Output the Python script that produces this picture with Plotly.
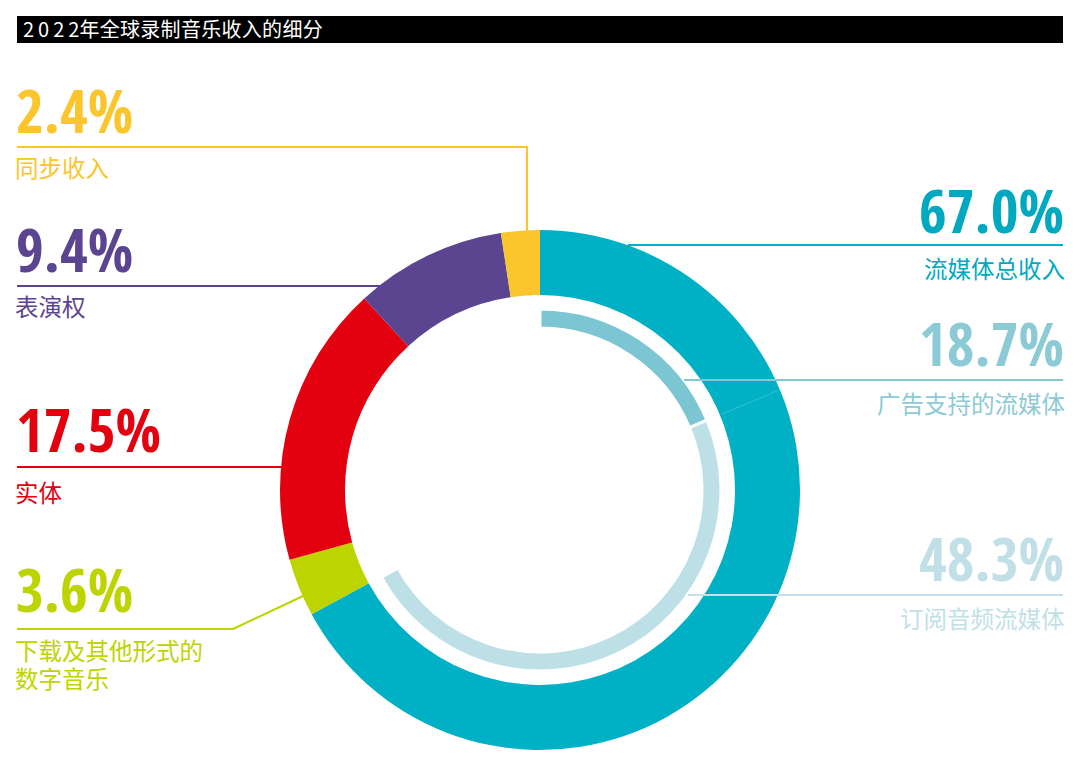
import math
import plotly.graph_objects as go

W, H = 1080, 778

# ---------------- data ----------------
title_text = ("<span style=\"letter-spacing:4px\">202</span>2"
              "<span style=\"letter-spacing:0.3px\">年全球录制音乐收入的细分</span>")

outer_labels = ["流媒体总收入", "下载及其他形式的<br>数字音乐", "实体", "表演权", "同步收入"]
outer_values = [67.0, 3.6, 17.5, 9.4, 2.4]
outer_colors = ["#00b1c5", "#bed400", "#e3000f", "#5b4590", "#fbc52c"]

inner_labels = ["广告支持的流媒体", "订阅音频流媒体", ""]
inner_values = [18.7, 48.3, 100 - 67.0]
inner_colors = ["#7cc5d2", "#bde0e7", "rgba(0,0,0,0)"]

pct_text = {
    "同步收入": "2.4%", "表演权": "9.4%", "实体": "17.5%",
    "下载及其他形式的<br>数字音乐": "3.6%", "流媒体总收入": "67.0%",
    "广告支持的流媒体": "18.7%", "订阅音频流媒体": "48.3%",
}

# ---------------- geometry helpers ----------------
CX, CY = 540, 490
R_OUT, R_OUT_HOLE = 260, 195
R_IN, R_IN_HOLE = 181, 162


def px(x):
    return x / W


def py(y):
    return 1 - y / H


def dom(r):
    return dict(x=[px(CX - r), px(CX + r)], y=[py(CY + r), py(CY - r)])


fig = go.Figure()
fig.add_trace(go.Pie(
    labels=outer_labels, values=outer_values, sort=False, direction="clockwise",
    rotation=0, hole=R_OUT_HOLE / R_OUT, domain=dom(R_OUT),
    marker=dict(colors=outer_colors, line=dict(width=0)),
    textinfo="none", hoverinfo="skip", showlegend=False,
))
fig.add_trace(go.Pie(
    labels=inner_labels, values=inner_values, sort=False, direction="clockwise",
    rotation=0, hole=R_IN_HOLE / R_IN, domain=dom(R_IN),
    marker=dict(colors=inner_colors,
                line=dict(width=[3, 3, 0], color="white")),
    textinfo="none", hoverinfo="skip", showlegend=False,
))

shapes = []
annotations = []

# title bar
shapes.append(dict(type="rect", xref="paper", yref="paper",
                   x0=px(17), x1=px(1063), y0=py(43), y1=py(16),
                   fillcolor="black", line=dict(width=0)))
annotations.append(dict(text=title_text, x=px(21), y=py(29), xref="paper", yref="paper",
                        xanchor="left", yanchor="middle", showarrow=False,
                        font=dict(family="Noto Sans CJK SC", size=20, color="white")))


def line(pts, color, width=2):
    path = "M " + " L ".join(f"{px(x)},{py(y)}" for x, y in pts)
    shapes.append(dict(type="path", path=path, xref="paper", yref="paper",
                       line=dict(color=color, width=width)))


# faint radial divider at the ad-supported / subscription boundary
ang = math.radians(inner_values[0] / 100 * 360)
line([(CX + 197 * math.sin(ang), CY - 197 * math.cos(ang)),
      (CX + 258 * math.sin(ang), CY - 258 * math.cos(ang))],
     "rgba(255,255,255,0.2)", 1)

# leader lines
line([(17, 147), (527, 147), (527, 231)], outer_colors[4])
line([(17, 286), (383, 286)], outer_colors[3])
line([(17, 467), (283, 467)], outer_colors[2])
line([(17, 629), (233, 629), (303, 596)], outer_colors[1])
line([(628, 245), (1063, 245)], outer_colors[0])
line([(684, 380), (1063, 380)], "#86c8d4")
line([(688, 595), (1063, 595)], "#c2e1e8")

PCT_FONT = "Open Sans Condensed, Roboto Condensed, DejaVu Sans Condensed, sans-serif"
CJK = "Noto Sans CJK SC"


def label(pct, name, x, y_pct, y_name, anchor, pcolor, ncolor):
    annotations.append(dict(text=f"<b>{pct}</b>", x=px(x), y=py(y_pct), xref="paper", yref="paper",
                            xanchor=anchor, yanchor="middle", showarrow=False,
                            font=dict(family=PCT_FONT, size=60, color=pcolor)))
    for i, part in enumerate(name.split("<br>")):
        annotations.append(dict(text=part, x=px(x), y=py(y_name + i * 28), xref="paper", yref="paper",
                                xanchor=anchor, yanchor="middle", showarrow=False, align=anchor,
                                height=26, borderpad=0, valign="middle",
                                font=dict(family=CJK, size=23.5, color=ncolor)))


# left side
label(pct_text[outer_labels[4]], outer_labels[4], 14, 110, 167, "left", outer_colors[4], outer_colors[4])
label(pct_text[outer_labels[3]], outer_labels[3], 14, 249, 306, "left", outer_colors[3], outer_colors[3])
label(pct_text[outer_labels[2]], outer_labels[2], 14, 429, 492, "left", outer_colors[2], outer_colors[2])
label(pct_text[outer_labels[1]], outer_labels[1], 14, 589, 650, "left", outer_colors[1], outer_colors[1])
# right side
label(pct_text[outer_labels[0]], outer_labels[0], 1066, 210, 268, "right", "#00a9bf", "#00a9bf")
label(pct_text[inner_labels[0]], inner_labels[0], 1066, 343, 403, "right", "#8ccad6", "#8ccad6")
label(pct_text[inner_labels[1]], inner_labels[1], 1066, 558, 618, "right", "#c0dfe6", "#c0dfe6")

fig.update_layout(
    width=W, height=H, margin=dict(l=0, r=0, t=0, b=0),
    paper_bgcolor="white", plot_bgcolor="white",
    shapes=shapes, annotations=annotations, showlegend=False,
)

fig.write_html("out.html", config={"displayModeBar": False},
               post_script="document.body.style.margin='0';document.body.style.padding='0';")
